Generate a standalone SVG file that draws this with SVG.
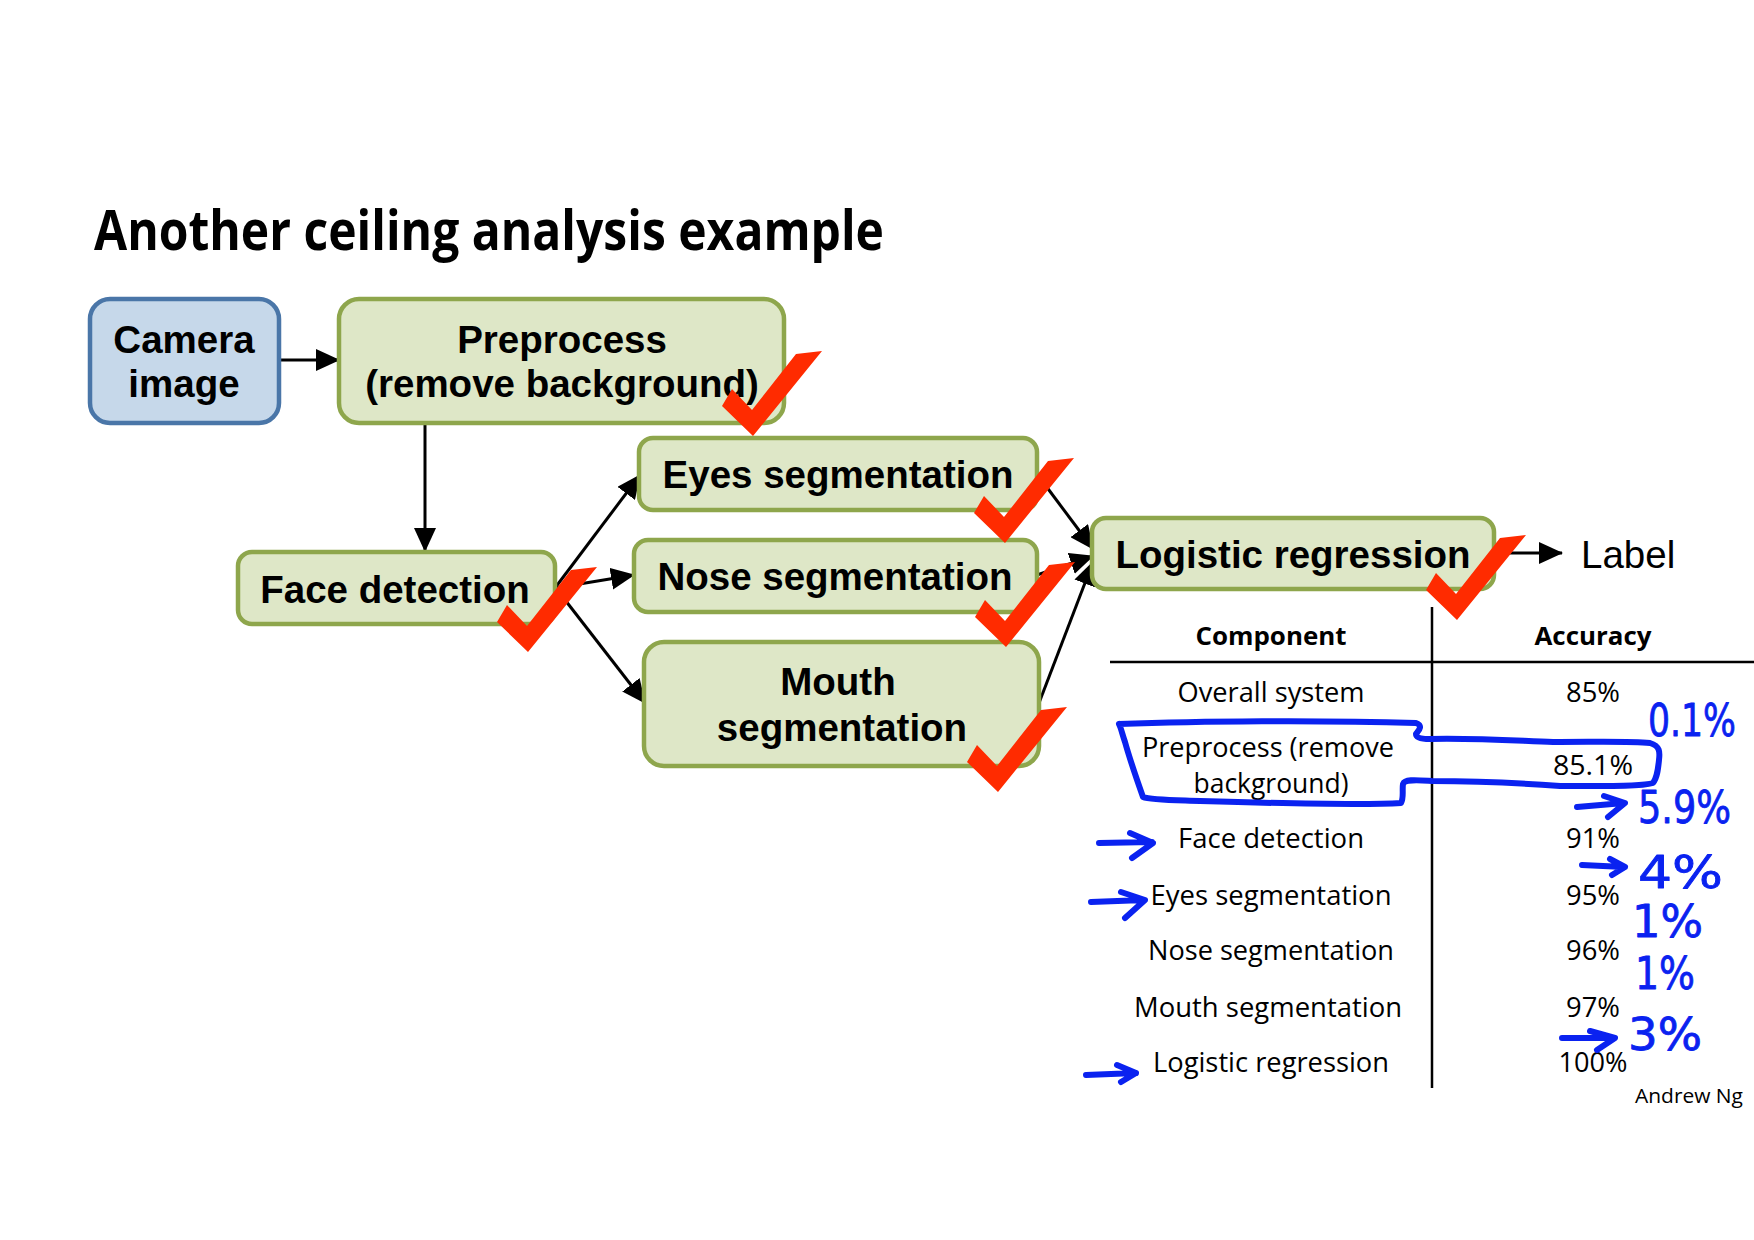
<svg xmlns="http://www.w3.org/2000/svg" xmlns:xlink="http://www.w3.org/1999/xlink" width="1754" height="1240" viewBox="0 0 1754 1240">
  <style>
    .box-g { fill: #dee7c7; stroke: #8ea64c; stroke-width: 4.5; }
    .box-b { fill: #c6d8ea; stroke: #4a76a8; stroke-width: 4.5; }
    .lbl { font-family: "Liberation Sans", Arial, sans-serif; font-weight: bold; font-size: 38.5px; fill: #000; text-anchor: middle; }
    .out { font-family: "Liberation Sans", Arial, sans-serif; font-size: 38.5px; fill: #000; }
    .title { font-family: "Open Sans", "Noto Sans", sans-serif; font-weight: bold; font-size: 55px; fill: #000; }
    .th { font-family: "Open Sans", "Noto Sans", sans-serif; font-weight: bold; font-size: 25px; fill: #000; text-anchor: middle; }
    .td { font-family: "Open Sans", "Noto Sans", sans-serif; font-size: 27px; fill: #000; text-anchor: middle; }
    .sig { font-family: "Open Sans", "Noto Sans", sans-serif; font-size: 20px; fill: #000; }
    .edge { stroke: #000; stroke-width: 3; fill: none; }
    .rule { stroke: #000; stroke-width: 2.5; fill: none; }
    .tick { fill: #ff2b00; }
    .ink { stroke: #0a22f0; stroke-width: 6; fill: none; stroke-linecap: round; stroke-linejoin: round; }
    .ink-t { font-family: "DejaVu Sans", sans-serif; font-size: 44px; fill: #0a22f0; stroke: #0a22f0; stroke-width: 0.8; stroke-linejoin: round; }
  </style>
  <defs>
    <marker id="arrow" markerUnits="userSpaceOnUse" markerWidth="24" markerHeight="22" refX="23" refY="11" orient="auto">
      <path d="M0,0 L24,11 L0,22 z" fill="#000"/>
    </marker>
    <!-- tick shape, origin at its bottom point -->
    <polygon id="check" points="0,0 -31,-30 -21,-47 -1,-26 43,-82 69,-85"/>
  </defs>

  <rect width="1754" height="1240" fill="#fff"/>

  <text class="title" x="94" y="250" textLength="790" lengthAdjust="spacingAndGlyphs">Another ceiling analysis example</text>

  <!-- connectors -->
  <g id="connectors">
    <line class="edge" x1="279" y1="360" x2="339" y2="360" marker-end="url(#arrow)"/>
    <line class="edge" x1="425" y1="423" x2="425" y2="551" marker-end="url(#arrow)"/>
    <line class="edge" x1="555" y1="588" x2="640" y2="475" marker-end="url(#arrow)"/>
    <line class="edge" x1="555" y1="588" x2="634" y2="575" marker-end="url(#arrow)"/>
    <line class="edge" x1="555" y1="587" x2="645" y2="703" marker-end="url(#arrow)"/>
    <line class="edge" x1="1037" y1="474" x2="1093" y2="549" marker-end="url(#arrow)"/>
    <line class="edge" x1="1037" y1="575" x2="1093" y2="556" marker-end="url(#arrow)"/>
    <line class="edge" x1="1039" y1="703" x2="1093" y2="562" marker-end="url(#arrow)"/>
    <line class="edge" x1="1494" y1="553" x2="1562" y2="553" marker-end="url(#arrow)"/>
  </g>

  <!-- pipeline nodes -->
  <g id="camera-image">
    <rect class="box-b" x="90" y="299" width="189" height="124" rx="20"/>
    <text class="lbl" x="184" y="353">Camera</text>
    <text class="lbl" x="184" y="397">image</text>
  </g>
  <g id="preprocess">
    <rect class="box-g" x="339" y="299" width="445" height="124" rx="20"/>
    <text class="lbl" x="562" y="353">Preprocess</text>
    <text class="lbl" x="562" y="397">(remove background)</text>
  </g>
  <g id="face-detection">
    <rect class="box-g" x="238" y="552" width="317" height="72" rx="14"/>
    <text class="lbl" x="395" y="603">Face detection</text>
  </g>
  <g id="eyes-segmentation">
    <rect class="box-g" x="639" y="438" width="398" height="72" rx="14"/>
    <text class="lbl" x="838" y="488">Eyes segmentation</text>
  </g>
  <g id="nose-segmentation">
    <rect class="box-g" x="634" y="540" width="403" height="72" rx="14"/>
    <text class="lbl" x="835" y="590">Nose segmentation</text>
  </g>
  <g id="mouth-segmentation">
    <rect class="box-g" x="644" y="642" width="395" height="124" rx="20"/>
    <text class="lbl" x="838" y="695">Mouth</text>
    <text class="lbl" x="842" y="741">segmentation</text>
  </g>
  <g id="logistic-regression">
    <rect class="box-g" x="1092" y="518" width="402" height="71" rx="14"/>
    <text class="lbl" x="1293" y="568">Logistic regression</text>
  </g>
  <g id="label">
    <text class="out" x="1581" y="568">Label</text>
  </g>

  <!-- check marks over finished components -->
  <g id="checks" class="tick">
    <use xlink:href="#check" x="753" y="436"/>
    <use xlink:href="#check" x="528" y="652"/>
    <use xlink:href="#check" x="1005" y="543"/>
    <use xlink:href="#check" x="1006" y="647"/>
    <use xlink:href="#check" x="998" y="792"/>
    <use xlink:href="#check" x="1457" y="620"/>
  </g>

  <!-- accuracy table -->
  <g id="table">
    <line class="rule" x1="1110" y1="662" x2="1754" y2="662"/>
    <line class="rule" x1="1432" y1="607" x2="1432" y2="1088"/>
    <text class="th" x="1271" y="645" textLength="151" lengthAdjust="spacingAndGlyphs">Component</text>
    <text class="th" x="1593" y="645" textLength="117" lengthAdjust="spacingAndGlyphs">Accuracy</text>

    <text class="td" x="1271" y="702" textLength="187" lengthAdjust="spacingAndGlyphs">Overall system</text>
    <text class="td" x="1593" y="702" textLength="54" lengthAdjust="spacingAndGlyphs">85%</text>
    <text class="td" x="1268" y="757" textLength="252" lengthAdjust="spacingAndGlyphs">Preprocess (remove</text>
    <text class="td" x="1271" y="793" textLength="155" lengthAdjust="spacingAndGlyphs">background)</text>
    <text class="td" x="1593" y="775" textLength="80" lengthAdjust="spacingAndGlyphs">85.1%</text>
    <text class="td" x="1271" y="848" textLength="186" lengthAdjust="spacingAndGlyphs">Face detection</text>
    <text class="td" x="1593" y="848" textLength="54" lengthAdjust="spacingAndGlyphs">91%</text>
    <text class="td" x="1271" y="905" textLength="241" lengthAdjust="spacingAndGlyphs">Eyes segmentation</text>
    <text class="td" x="1593" y="905" textLength="54" lengthAdjust="spacingAndGlyphs">95%</text>
    <text class="td" x="1271" y="960" textLength="246" lengthAdjust="spacingAndGlyphs">Nose segmentation</text>
    <text class="td" x="1593" y="960" textLength="54" lengthAdjust="spacingAndGlyphs">96%</text>
    <text class="td" x="1268" y="1017" textLength="268" lengthAdjust="spacingAndGlyphs">Mouth segmentation</text>
    <text class="td" x="1593" y="1017" textLength="54" lengthAdjust="spacingAndGlyphs">97%</text>
    <text class="td" x="1271" y="1072" textLength="236" lengthAdjust="spacingAndGlyphs">Logistic regression</text>
    <text class="td" x="1593" y="1072" textLength="69" lengthAdjust="spacingAndGlyphs">100%</text>

    <text class="sig" x="1635" y="1103" textLength="108" lengthAdjust="spacingAndGlyphs">Andrew Ng</text>
  </g>

  <!-- hand-drawn notes -->
  <g id="notes">
    <path class="ink" d="M1119,724 C1200,721 1320,720 1416,723 C1424,726 1418,731 1416,734 C1416,738 1422,739 1430,739 C1480,738 1520,741 1553,742 C1600,742 1630,741 1650,743 C1660,746 1660,752 1659,760 C1658,770 1657,778 1653,783 C1640,787 1600,786 1560,786 C1520,783 1470,781 1432,781 C1415,780 1405,779 1403,784 C1402,790 1404,798 1401,803 C1370,805 1300,804 1200,801 C1170,800 1150,800 1143,797 C1137,780 1130,760 1125,742 C1122,733 1121,728 1119,724"/>
    <path class="ink" d="M1577,807 L1624,803 M1604,796 L1625,803 L1608,817"/>
    <path class="ink" d="M1582,865 L1624,867 M1610,859 L1625,867 L1612,875"/>
    <path class="ink" d="M1562,1038 L1614,1038 M1590,1031 L1615,1038 L1597,1050"/>
    <path class="ink" d="M1099,843 L1152,842 M1130,833 L1153,843 L1132,858"/>
    <path class="ink" d="M1091,902 L1144,900 M1121,892 L1145,900 L1125,918"/>
    <path class="ink" d="M1086,1075 L1136,1073 M1117,1065 L1136,1073 L1121,1082"/>
    <text class="ink-t" x="1648" y="736" font-size="40" textLength="88" lengthAdjust="spacingAndGlyphs">0.1%</text>
    <text class="ink-t" x="1638" y="823" textLength="93" lengthAdjust="spacingAndGlyphs">5.9%</text>
    <text class="ink-t" x="1638" y="888" textLength="85" lengthAdjust="spacingAndGlyphs">4%</text>
    <text class="ink-t" x="1632" y="937" textLength="71" lengthAdjust="spacingAndGlyphs">1%</text>
    <text class="ink-t" x="1635" y="989" textLength="60" lengthAdjust="spacingAndGlyphs">1%</text>
    <text class="ink-t" x="1628" y="1050" textLength="74" lengthAdjust="spacingAndGlyphs">3%</text>
  </g>
</svg>
